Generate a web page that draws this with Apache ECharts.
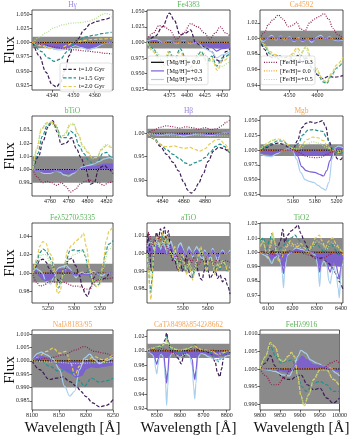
<!DOCTYPE html>
<html><head><meta charset="utf-8">
<script src="https://cdn.jsdelivr.net/npm/echarts@6/dist/echarts.min.js"></script>
<style>html,body{margin:0;padding:0;background:#fff}#c{width:350px;height:437px}</style>
</head><body><div id="c"></div>
<script>
// ---------------- DATA ----------------
// Panel 1: Hgamma
const hg_xt=[4340,4350,4360], hg_yt=[0.925,0.95,0.975,1.0,1.025,1.05];
const hg_t1=[[4331,1.0],[4334,0.976],[4337,0.948],[4340,0.926],[4342,0.922],[4344,0.93],[4346,0.952],[4348,0.977],[4350,0.995],[4352,1.006],[4355,1.022],[4358,1.033],[4361,1.037],[4364,1.04],[4368,1.045]];
const hg_t15=[[4331,1.0],[4335,0.984],[4338,0.973],[4341,0.967],[4344,0.971],[4347,0.984],[4350,0.997],[4353,1.005],[4356,1.01],[4360,1.013],[4364,1.016],[4368,1.018]];
const hg_t2=[[4331,1.0],[4335,0.994],[4338,0.99],[4341,0.988],[4344,0.99],[4347,0.995],[4350,1.0],[4354,1.003],[4358,1.005],[4363,1.006],[4368,1.007]];
const hg_mg3=[[4331,1.0],[4335,0.998],[4339,0.993],[4343,0.99],[4347,0.991],[4351,0.996],[4354,0.993],[4357,0.99],[4360,0.993],[4364,0.999],[4368,1.0]];
const hg_mg5=[[4331,1.0],[4335,0.997],[4339,0.991],[4343,0.987],[4347,0.988],[4351,0.995],[4354,0.991],[4357,0.987],[4360,0.99],[4364,0.998],[4368,1.0]];
const hg_fem3=[[4331,1.0],[4336,0.996],[4341,0.992],[4346,0.989],[4351,0.987],[4356,0.985],[4361,0.983],[4365,0.981],[4368,0.98]];
const hg_fep5=[[4331,1.0],[4334,1.009],[4337,1.017],[4341,1.026],[4345,1.031],[4349,1.034],[4353,1.035],[4357,1.037],[4360,1.041],[4363,1.048],[4365,1.051],[4368,1.048]];
// Panel 2: Fe4383
const fe43_xt=[4375,4400,4425,4450], fe43_yt=[0.925,0.95,0.975,1.0,1.025,1.05];
const fe43_t1=[[4343,1.0],[4355,1.01],[4365,1.025],[4375,1.047],[4382,1.035],[4390,1.012],[4398,1.015],[4405,1.02],[4412,1.0],[4420,0.995],[4428,0.99],[4435,0.985],[4442,0.972],[4448,0.968],[4455,0.985],[4461,0.99]];
const fe43_t15=[[4343,1.0],[4352,0.99],[4360,0.975],[4368,0.963],[4375,0.985],[4382,0.97],[4390,0.99],[4398,0.975],[4405,0.96],[4412,0.975],[4420,0.985],[4428,0.97],[4435,0.978],[4442,0.962],[4450,0.975],[4461,0.982]];
const fe43_t2=[[4343,1.0],[4352,0.985],[4360,0.97],[4366,0.958],[4373,0.985],[4382,0.965],[4390,0.985],[4398,0.97],[4405,0.955],[4412,0.97],[4420,0.98],[4428,0.965],[4435,0.975],[4443,0.955],[4450,0.97],[4461,0.978]];
const fe43_mg3=[[4343,1.001],[4355,1.003],[4365,1.0],[4375,1.002],[4385,0.999],[4395,1.002],[4405,0.999],[4415,1.0],[4425,0.995],[4435,0.992],[4442,0.986],[4450,0.99],[4461,0.992]];
const fe43_mg5=[[4343,1.002],[4355,1.005],[4365,1.0],[4375,1.003],[4385,0.998],[4395,1.003],[4405,0.998],[4415,1.0],[4425,0.99],[4435,0.985],[4442,0.975],[4450,0.98],[4461,0.985]];
const fe43_fem3=[[4343,1.005],[4352,1.015],[4360,1.027],[4368,1.025],[4375,1.02],[4385,1.005],[4395,1.015],[4405,1.03],[4415,1.025],[4425,1.015],[4432,1.005],[4440,1.015],[4447,1.025],[4455,1.015],[4461,1.01]];
const fe43_fep5=[[4343,1.0],[4355,0.985],[4365,0.975],[4375,0.98],[4390,0.975],[4405,0.97],[4420,0.985],[4435,0.97],[4445,0.96],[4461,0.97]];
// Panel 3: Ca4592
const ca_xt=[4550,4600], ca_yt=[0.94,0.96,0.98,1.0,1.02];
const ca_t1=[[4497,1.0],[4505,0.986],[4512,0.977],[4520,0.975],[4530,0.978],[4540,0.975],[4550,0.977],[4558,0.972],[4565,0.978],[4572,0.968],[4580,0.975],[4590,0.962],[4600,0.953],[4610,0.948],[4620,0.951],[4632,0.95],[4646,0.952]];
const ca_t15=[[4497,1.0],[4505,0.99],[4515,0.98],[4525,0.976],[4535,0.972],[4545,0.968],[4555,0.975],[4563,0.965],[4572,0.978],[4582,0.968],[4592,0.962],[4602,0.952],[4610,0.944],[4617,0.942],[4625,0.952],[4635,0.962],[4646,0.97]];
const ca_t2=[[4497,1.0],[4505,0.992],[4515,0.983],[4525,0.979],[4535,0.976],[4545,0.972],[4555,0.98],[4563,0.988],[4572,0.982],[4580,0.99],[4590,0.972],[4600,0.958],[4610,0.946],[4617,0.944],[4625,0.955],[4635,0.966],[4646,0.976]];
const ca_mg3=[[4497,1.001],[4503,0.998],[4510,1.0],[4518,1.002],[4526,0.999],[4534,1.002],[4542,0.999],[4550,1.001],[4558,0.997],[4566,1.0],[4574,0.997],[4582,1.0],[4590,0.997],[4598,1.0],[4606,1.002],[4614,0.999],[4622,1.001],[4630,0.999],[4638,0.998],[4646,0.999]];
const ca_mg5=[[4497,1.002],[4503,0.996],[4510,1.0],[4518,1.004],[4526,0.998],[4534,1.003],[4542,0.998],[4550,1.002],[4558,0.996],[4566,1.001],[4574,0.996],[4582,1.0],[4590,0.995],[4598,1.001],[4606,1.004],[4614,0.999],[4622,1.002],[4630,0.998],[4638,0.997],[4646,0.998]];
const ca_fem3=[[4497,1.0],[4505,1.008],[4512,1.018],[4520,1.024],[4530,1.03],[4538,1.025],[4548,1.015],[4556,1.017],[4563,1.021],[4570,1.012],[4578,1.01],[4586,1.02],[4595,1.025],[4603,1.028],[4612,1.032],[4620,1.025],[4628,1.013],[4636,1.005],[4646,1.0]];
const ca_fep5=[[4497,1.0],[4506,0.99],[4516,0.98],[4526,0.978],[4536,0.975],[4546,0.97],[4556,0.978],[4563,0.985],[4570,0.978],[4578,0.988],[4588,0.975],[4598,0.962],[4608,0.95],[4616,0.943],[4625,0.953],[4636,0.963],[4646,0.972]];
// Panel 4: bTiO
const bt_xt=[4760,4780,4800,4820], bt_yt=[0.99,1.0,1.01,1.02,1.03];
const bt_t1=[[4742,1.0],[4748,1.01],[4753,1.022],[4758,1.032],[4763,1.037],[4768,1.028],[4772,1.019],[4777,1.02],[4783,1.024],[4788,1.016],[4793,1.009],[4798,1.0],[4803,0.989],[4807,0.99],[4812,1.001],[4818,1.003],[4823,1.0],[4827,0.997]];
const bt_t15=[[4742,1.0],[4747,1.012],[4752,1.025],[4757,1.033],[4762,1.036],[4767,1.032],[4772,1.024],[4777,1.024],[4782,1.029],[4786,1.027],[4791,1.018],[4796,1.012],[4801,1.007],[4806,1.004],[4811,1.006],[4816,1.012],[4820,1.013],[4824,1.01],[4827,1.008]];
const bt_t2=[[4742,1.0],[4746,1.015],[4751,1.03],[4756,1.035],[4761,1.036],[4766,1.034],[4771,1.025],[4776,1.026],[4781,1.033],[4785,1.034],[4790,1.027],[4795,1.018],[4800,1.013],[4805,1.009],[4810,1.009],[4815,1.015],[4820,1.018],[4824,1.017],[4827,1.015]];
const bt_mg3=[[4742,1.0],[4748,0.999],[4754,0.998],[4760,0.998],[4766,0.999],[4771,0.999],[4775,0.997],[4780,0.997],[4785,0.998],[4790,1.0],[4795,1.001],[4800,1.002],[4806,1.002],[4812,1.003],[4818,1.004],[4823,1.004],[4827,1.004]];
const bt_mg5=[[4742,1.0],[4748,0.999],[4754,0.997],[4760,0.997],[4766,0.999],[4771,0.998],[4775,0.996],[4780,0.995],[4785,0.997],[4790,1.0],[4795,1.002],[4800,1.003],[4806,1.004],[4812,1.006],[4818,1.008],[4823,1.009],[4827,1.008]];
const bt_fem3=[[4742,1.0],[4747,0.994],[4752,0.99],[4757,0.991],[4762,0.99],[4767,0.988],[4772,0.99],[4777,0.987],[4782,0.983],[4787,0.985],[4792,0.989],[4797,0.991],[4802,0.992],[4807,0.991],[4812,0.99],[4817,0.988],[4822,0.99],[4827,0.991]];
const bt_fep5=[[4742,1.0],[4746,1.016],[4751,1.031],[4756,1.034],[4761,1.035],[4766,1.032],[4771,1.024],[4776,1.027],[4781,1.034],[4785,1.035],[4790,1.026],[4795,1.017],[4800,1.014],[4805,1.008],[4810,1.01],[4815,1.016],[4820,1.019],[4827,1.016]];
// Panel 5: Hbeta
const hb_xt=[4840,4860,4880], hb_yt=[0.90,0.95,1.0];
const hb_t1=[[4826,1.0],[4832,0.988],[4838,0.972],[4844,0.955],[4850,0.938],[4855,0.92],[4860,0.896],[4864,0.878],[4867,0.872],[4870,0.878],[4874,0.893],[4878,0.912],[4883,0.94],[4888,0.962],[4893,0.97],[4897,0.968],[4903,0.958]];
const hb_t15=[[4826,1.0],[4832,0.99],[4838,0.976],[4844,0.965],[4850,0.955],[4856,0.946],[4861,0.937],[4866,0.932],[4870,0.937],[4875,0.941],[4880,0.948],[4885,0.96],[4890,0.972],[4894,0.977],[4898,0.972],[4903,0.958]];
const hb_t2=[[4826,1.0],[4831,0.99],[4836,0.98],[4841,0.972],[4846,0.971],[4851,0.973],[4856,0.97],[4861,0.968],[4866,0.97],[4870,0.966],[4875,0.962],[4880,0.967],[4885,0.978],[4890,0.986],[4894,0.987],[4898,0.978],[4903,0.962]];
const hb_mg3=[[4826,1.0],[4833,0.998],[4840,0.998],[4847,1.0],[4854,0.998],[4860,0.997],[4866,0.998],[4872,1.0],[4878,0.999],[4885,0.997],[4892,0.999],[4898,1.0],[4903,1.001]];
const hb_mg5=[[4826,1.0],[4833,0.997],[4840,0.996],[4847,0.999],[4854,0.997],[4860,0.994],[4866,0.996],[4872,0.999],[4878,0.998],[4885,0.995],[4892,0.998],[4898,1.001],[4903,1.002]];
const hb_fem3=[[4826,1.0],[4832,1.007],[4838,1.013],[4844,1.016],[4850,1.014],[4856,1.011],[4862,1.014],[4868,1.012],[4874,1.009],[4880,1.012],[4886,1.008],[4891,1.01],[4896,1.016],[4900,1.024],[4903,1.028]];
const hb_fep5=[[4826,1.0],[4840,0.996],[4855,0.994],[4870,0.996],[4885,0.995],[4903,0.994]];
// Panel 6: Mgb
const mgb_xt=[5160,5180,5200], mgb_yt=[0.925,0.95,0.975,1.0,1.025,1.05];
const mgb_t1=[[5130,1.0],[5135,1.004],[5140,1.009],[5146,1.012],[5151,1.01],[5156,1.005],[5160,1.001],[5164,1.016],[5168,1.038],[5172,1.046],[5176,1.048],[5180,1.046],[5184,1.048],[5187,1.05],[5190,1.04],[5193,1.015],[5197,0.997],[5201,0.985],[5204,0.984],[5206,0.99]];
const mgb_t15=[[5130,1.0],[5135,1.006],[5140,1.011],[5146,1.016],[5151,1.015],[5156,1.008],[5161,1.003],[5165,1.012],[5169,1.026],[5174,1.034],[5179,1.035],[5183,1.033],[5187,1.032],[5191,1.022],[5195,1.005],[5199,0.996],[5203,0.994],[5206,0.997]];
const mgb_t2=[[5130,1.0],[5135,1.009],[5140,1.016],[5145,1.019],[5150,1.018],[5155,1.01],[5160,1.002],[5164,1.001],[5168,1.01],[5173,1.018],[5178,1.022],[5183,1.021],[5188,1.016],[5192,1.006],[5196,0.999],[5200,0.996],[5206,0.998]];
const mgb_mg3=[[5130,0.996],[5135,0.994],[5140,0.993],[5145,0.996],[5150,0.999],[5155,1.0],[5160,1.0],[5164,0.99],[5168,0.972],[5172,0.965],[5176,0.963],[5180,0.962],[5184,0.959],[5188,0.956],[5191,0.965],[5194,0.982],[5197,0.998],[5201,1.004],[5206,1.002]];
const mgb_mg5=[[5130,0.993],[5135,0.99],[5140,0.989],[5145,0.994],[5150,0.999],[5155,1.002],[5160,0.999],[5163,0.985],[5167,0.962],[5171,0.95],[5175,0.947],[5179,0.945],[5183,0.94],[5187,0.935],[5190,0.932],[5193,0.945],[5196,0.985],[5199,1.004],[5202,1.007],[5206,1.004]];
const mgb_fem3=[[5130,1.0],[5140,0.999],[5150,1.0],[5160,1.0],[5166,0.996],[5171,0.99],[5176,0.988],[5181,0.987],[5186,0.988],[5191,0.993],[5196,0.997],[5201,0.997],[5206,0.999]];
const mgb_fep5=[[5130,1.002],[5136,1.012],[5142,1.017],[5148,1.015],[5154,1.008],[5160,1.003],[5166,1.002],[5172,1.01],[5178,1.014],[5184,1.012],[5190,1.005],[5196,1.0],[5206,0.999]];
// Panel 7: Fe5270/5335
const fe52_xt=[5250,5300,5350], fe52_yt=[0.98,1.0,1.02,1.04];
const fe52_t1=[[5221,1.0],[5228,1.008],[5234,1.014],[5240,1.015],[5246,1.012],[5252,1.005],[5258,1.0],[5264,0.995],[5270,0.992],[5276,0.995],[5283,1.005],[5290,1.015],[5296,1.016],[5303,1.008],[5310,0.998],[5316,0.985],[5322,0.977],[5326,0.975],[5332,0.985],[5338,0.995],[5344,1.0],[5350,0.998],[5356,0.994],[5362,0.995],[5368,1.0],[5375,1.0]];
const fe52_t15=[[5221,1.0],[5228,1.012],[5234,1.022],[5240,1.026],[5246,1.024],[5252,1.018],[5258,1.012],[5264,0.995],[5270,0.984],[5276,0.993],[5284,1.012],[5292,1.024],[5300,1.025],[5308,1.024],[5316,1.025],[5322,1.018],[5328,1.0],[5335,0.99],[5342,0.986],[5348,0.988],[5354,1.0],[5360,1.02],[5366,1.031],[5375,1.035]];
const fe52_t2=[[5221,1.0],[5228,1.015],[5234,1.029],[5240,1.034],[5246,1.032],[5252,1.022],[5258,1.018],[5263,1.0],[5268,0.978],[5273,0.98],[5280,1.005],[5288,1.025],[5296,1.03],[5304,1.035],[5312,1.038],[5318,1.043],[5324,1.028],[5330,1.005],[5337,0.99],[5344,0.985],[5350,0.988],[5356,1.01],[5362,1.035],[5368,1.046],[5375,1.05]];
const fe52_mg3=[[5221,1.0],[5227,1.003],[5233,0.997],[5240,0.993],[5246,0.992],[5252,0.993],[5258,0.995],[5264,1.0],[5271,1.004],[5278,1.004],[5286,1.004],[5294,1.002],[5300,0.998],[5308,0.998],[5316,0.999],[5324,0.998],[5332,0.999],[5340,1.0],[5350,0.999],[5360,1.0],[5375,1.0]];
const fe52_mg5=[[5221,1.0],[5227,1.005],[5233,1.003],[5239,1.0],[5245,0.992],[5250,0.99],[5255,0.988],[5260,0.995],[5265,1.002],[5271,1.006],[5278,1.007],[5285,1.008],[5292,1.005],[5298,0.999],[5304,0.995],[5310,1.0],[5316,1.001],[5322,0.999],[5330,1.0],[5338,1.002],[5346,0.999],[5354,0.997],[5362,1.0],[5375,1.0]];
const fe52_fem3=[[5221,0.998],[5228,0.99],[5234,0.986],[5242,0.987],[5250,0.99],[5258,0.991],[5266,0.99],[5274,0.99],[5282,0.99],[5290,0.988],[5298,0.986],[5306,0.986],[5314,0.985],[5322,0.983],[5330,0.982],[5338,0.99],[5346,0.993],[5354,0.993],[5362,0.994],[5375,0.995]];
const fe52_fep5=[[5221,1.0],[5230,1.012],[5238,1.02],[5246,1.02],[5254,1.012],[5262,1.0],[5270,0.985],[5280,0.998],[5290,1.015],[5300,1.02],[5310,1.022],[5318,1.025],[5326,1.01],[5336,0.993],[5346,0.99],[5356,1.005],[5366,1.025],[5375,1.03]];
// Panel 8: aTiO
const at_xt=[5500,5600], at_yt=[0.98,0.99,1.0,1.01];
const at_t1=[[5356,1.0],[5360,1.012],[5366,1.004],[5372,0.992],[5378,0.99],[5386,1.004],[5394,1.012],[5402,1.008],[5410,1.014],[5418,1.01],[5426,1.015],[5434,1.008],[5442,1.013],[5450,1.004],[5458,0.996],[5466,1.0],[5474,0.993],[5482,0.99],[5490,0.996],[5498,0.99],[5506,0.993],[5514,0.999],[5522,0.991],[5530,0.987],[5538,0.986],[5546,0.99],[5554,0.995],[5562,0.99],[5570,0.986],[5578,0.985],[5586,0.99],[5594,0.996],[5602,0.99],[5610,0.986],[5620,0.988],[5630,0.992],[5640,0.986],[5650,0.988],[5660,0.984],[5670,0.986],[5680,0.982],[5690,0.977]];
const at_t15=[[5356,1.0],[5362,0.992],[5367,0.982],[5371,0.978],[5376,0.985],[5382,0.999],[5390,1.006],[5398,1.008],[5405,1.003],[5412,1.008],[5420,1.01],[5428,1.005],[5436,1.008],[5444,1.003],[5452,0.999],[5460,0.997],[5468,1.002],[5476,0.995],[5484,0.991],[5492,0.996],[5500,0.998],[5508,0.992],[5516,0.989],[5524,0.994],[5532,0.99],[5540,0.987],[5548,0.99],[5556,0.994],[5564,0.998],[5572,1.002],[5580,0.998],[5588,0.993],[5596,0.99],[5604,0.995],[5612,0.998],[5620,0.993],[5630,0.989],[5640,0.993],[5650,0.991],[5660,0.995],[5670,0.993],[5680,0.99],[5690,0.991]];
const at_t2=[[5356,1.0],[5362,0.99],[5368,0.978],[5372,0.974],[5376,0.982],[5382,0.998],[5390,1.008],[5398,1.01],[5405,1.004],[5412,1.009],[5420,1.012],[5428,1.006],[5436,1.01],[5444,1.004],[5452,1.0],[5460,0.998],[5468,1.004],[5476,0.996],[5484,0.99],[5492,0.997],[5500,1.0],[5508,0.993],[5516,0.988],[5524,0.995],[5532,0.99],[5540,0.985],[5548,0.99],[5556,0.995],[5564,1.0],[5572,1.004],[5580,1.0],[5588,0.994],[5596,0.99],[5604,0.996],[5612,1.0],[5620,0.994],[5630,0.988],[5640,0.994],[5650,0.992],[5660,0.996],[5670,0.994],[5680,0.99],[5690,0.99]];
const at_mg3=[[5356,1.002],[5364,1.004],[5372,1.004],[5380,1.002],[5388,1.0],[5396,1.005],[5404,1.003],[5412,1.001],[5420,1.004],[5428,1.002],[5436,0.999],[5444,1.003],[5452,1.004],[5460,1.002],[5468,0.998],[5476,0.999],[5484,1.003],[5492,1.004],[5500,1.002],[5508,0.999],[5516,1.0],[5524,1.002],[5532,1.001],[5540,0.999],[5548,1.001],[5556,1.002],[5564,1.001],[5572,0.999],[5580,0.998],[5588,1.001],[5596,1.0],[5604,0.998],[5612,0.999],[5620,1.002],[5630,1.0],[5640,0.998],[5650,1.0],[5660,1.001],[5670,1.0],[5680,1.0],[5690,1.001]];
const at_mg5=[[5356,1.004],[5364,1.006],[5372,1.007],[5380,1.004],[5388,1.0],[5396,1.008],[5404,1.005],[5412,1.002],[5420,1.007],[5428,1.004],[5436,0.999],[5444,1.005],[5452,1.007],[5460,1.004],[5468,0.996],[5476,0.999],[5484,1.005],[5492,1.006],[5500,1.003],[5508,0.999],[5516,1.0],[5524,1.004],[5532,1.002],[5540,0.998],[5548,1.002],[5556,1.004],[5564,1.002],[5572,0.998],[5580,0.997],[5588,1.002],[5596,1.0],[5604,0.997],[5612,0.999],[5620,1.003],[5630,1.0],[5640,0.996],[5650,1.0],[5660,1.002],[5670,1.0],[5680,1.0],[5690,1.002]];
const at_fem3=[[5356,1.005],[5362,1.012],[5368,1.01],[5376,1.004],[5386,1.008],[5396,1.006],[5406,1.01],[5416,1.004],[5426,1.008],[5436,1.004],[5446,1.0],[5456,0.998],[5466,0.996],[5476,0.999],[5486,0.995],[5496,0.998],[5506,0.996],[5516,0.994],[5526,0.997],[5536,0.995],[5546,0.998],[5556,0.996],[5566,0.994],[5576,0.997],[5586,0.995],[5596,0.998],[5610,0.996],[5625,0.994],[5640,0.997],[5655,0.995],[5670,0.996],[5690,0.995]];
const at_fep5=[[5356,1.0],[5364,0.994],[5370,0.986],[5376,0.99],[5384,1.0],[5394,1.006],[5404,1.004],[5414,1.007],[5424,1.005],[5434,1.007],[5444,1.002],[5454,0.999],[5464,1.001],[5474,0.996],[5484,0.993],[5494,0.997],[5504,0.995],[5514,0.991],[5524,0.996],[5534,0.992],[5544,0.99],[5554,0.995],[5564,0.998],[5574,1.002],[5584,0.997],[5594,0.993],[5604,0.997],[5614,0.998],[5624,0.993],[5636,0.991],[5648,0.994],[5660,0.996],[5675,0.993],[5690,0.992]];
// Panel 9: TiO2
const ti_xt=[6100,6200,6300,6400], ti_yt=[0.97,0.98,0.99,1.0,1.01,1.02];
const ti_t1=[[6068,1.0],[6085,1.0],[6100,0.999],[6120,1.001],[6140,1.004],[6150,1.008],[6160,1.016],[6168,1.007],[6180,1.012],[6195,1.015],[6210,1.017],[6222,1.019],[6235,1.013],[6248,1.008],[6260,1.004],[6275,0.998],[6290,0.996],[6305,0.995],[6320,0.996],[6335,0.994],[6350,0.992],[6365,0.989],[6375,0.986],[6385,0.982],[6395,0.979],[6408,0.974]];
const ti_t15=[[6068,1.008],[6080,1.01],[6092,1.002],[6105,1.008],[6115,1.013],[6125,1.006],[6138,0.999],[6150,1.003],[6165,1.005],[6180,1.008],[6195,1.01],[6210,1.012],[6225,1.009],[6240,1.005],[6255,1.003],[6270,1.0],[6285,1.004],[6300,1.006],[6315,1.003],[6330,1.0],[6345,1.004],[6360,1.006],[6375,1.002],[6390,0.998],[6408,1.0]];
const ti_t2=[[6068,1.004],[6080,1.008],[6092,1.0],[6100,0.995],[6110,1.006],[6118,1.014],[6125,1.008],[6135,0.998],[6145,0.993],[6155,0.996],[6165,1.0],[6178,1.004],[6190,1.008],[6205,1.005],[6220,1.004],[6235,1.006],[6250,1.003],[6265,1.0],[6280,1.005],[6295,1.01],[6310,1.012],[6322,1.008],[6335,1.003],[6350,1.008],[6365,1.01],[6380,1.006],[6395,1.002],[6408,0.998]];
const ti_mg3=[[6068,1.0],[6085,0.999],[6100,0.998],[6115,0.995],[6125,0.997],[6140,0.999],[6152,0.995],[6158,0.99],[6163,0.985],[6168,0.993],[6178,0.999],[6195,1.0],[6215,1.002],[6235,1.001],[6255,1.001],[6275,1.0],[6295,0.999],[6305,0.994],[6312,0.986],[6318,0.994],[6330,0.997],[6342,0.994],[6350,0.988],[6356,0.986],[6362,0.99],[6370,0.994],[6380,0.991],[6388,0.985],[6393,0.981],[6398,0.988],[6403,0.994],[6408,0.996]];
const ti_mg5=[[6068,1.0],[6085,0.998],[6100,0.996],[6115,0.992],[6125,0.996],[6140,0.998],[6152,0.992],[6158,0.985],[6163,0.975],[6168,0.988],[6178,0.998],[6195,1.0],[6215,1.003],[6235,1.002],[6255,1.001],[6275,1.0],[6295,0.998],[6305,0.99],[6312,0.976],[6318,0.99],[6330,0.994],[6342,0.99],[6350,0.98],[6356,0.978],[6362,0.984],[6370,0.99],[6380,0.985],[6388,0.975],[6393,0.968],[6398,0.98],[6403,0.99],[6408,0.992]];
const ti_fem3=[[6068,1.0],[6090,1.0],[6110,0.999],[6130,0.998],[6150,0.997],[6170,1.0],[6190,1.001],[6210,1.0],[6230,1.0],[6250,0.999],[6270,0.998],[6290,0.997],[6310,0.996],[6330,0.996],[6350,0.998],[6370,1.0],[6390,0.999],[6408,1.0]];
const ti_fep5=[[6068,1.01],[6080,1.006],[6095,0.998],[6110,1.004],[6120,1.012],[6130,1.005],[6142,0.997],[6155,1.0],[6170,1.004],[6185,1.006],[6200,1.004],[6220,1.006],[6240,1.002],[6260,1.0],[6280,1.003],[6300,1.008],[6320,1.006],[6340,1.002],[6360,1.007],[6380,1.004],[6408,1.0]];
// Panel 10: NaI8183/95
const na_xt=[8100,8150,8200,8250], na_yt=[0.985,0.99,0.995,1.0,1.005,1.01];
const na_t1=[[8100,1.0],[8114,0.9967],[8132,0.993],[8145,0.9935],[8157,0.994],[8170,0.9922],[8182,0.9905],[8191,0.9885],[8200,0.9866],[8212,0.9843],[8225,0.9828],[8238,0.9833],[8250,0.9855]];
const na_t15=[[8100,1.0],[8114,1.0005],[8132,0.998],[8151,0.996],[8163,0.9965],[8175,0.9955],[8188,0.9925],[8197,0.9905],[8210,0.9935],[8225,0.992],[8238,0.9925],[8250,0.9935]];
const na_t2=[[8100,1.0],[8111,1.0015],[8127,1.0035],[8139,1.0047],[8151,1.0028],[8163,1.0035],[8172,0.999],[8179,0.9945],[8188,0.998],[8200,1.0004],[8216,1.0015],[8232,1.0003],[8250,1.0022]];
const na_mg3=[[8100,1.0],[8111,1.0018],[8120,1.0015],[8132,1.0005],[8145,0.999],[8158,0.9968],[8170,0.9955],[8182,0.994],[8192,0.9945],[8200,0.997],[8210,0.9978],[8222,0.9975],[8235,0.998],[8250,0.9985]];
const na_mg5=[[8100,1.0],[8111,1.0028],[8117,1.0032],[8127,1.0022],[8139,1.0006],[8151,0.9967],[8160,0.9905],[8170,0.9868],[8179,0.9886],[8188,0.9967],[8197,1.001],[8207,1.0025],[8216,1.0004],[8225,0.9989],[8238,1.0001],[8250,1.0014]];
const na_fem3=[[8100,1.0],[8130,1.001],[8160,1.0022],[8180,1.004],[8197,1.0053],[8216,1.0035],[8235,1.0028],[8250,1.0015]];
const na_fep5=[[8100,1.0],[8140,0.9995],[8180,0.999],[8220,0.9993],[8250,0.9995]];
// Panel 11: CaT
const cat_xt=[8500,8600,8700,8800], cat_yt=[0.92,0.94,0.96,0.98,1.0,1.02];
const cat_t1=[[8458,1.0],[8475,1.002],[8490,1.004],[8500,1.006],[8512,1.005],[8525,1.008],[8535,1.015],[8542,1.025],[8550,1.012],[8560,1.0],[8575,0.998],[8590,0.99],[8605,0.982],[8615,0.992],[8625,1.0],[8640,1.003],[8655,1.005],[8665,1.008],[8675,1.002],[8690,0.998],[8705,1.0],[8720,0.998],[8735,0.995],[8750,0.985],[8760,0.97],[8770,0.964],[8778,0.975],[8786,0.99],[8795,0.995],[8805,0.993],[8814,0.998]];
const cat_t15=[[8458,1.0],[8475,1.002],[8490,1.003],[8505,1.004],[8520,1.006],[8533,1.01],[8542,1.02],[8550,1.012],[8562,1.003],[8580,1.0],[8600,0.996],[8620,1.0],[8640,1.003],[8655,1.006],[8665,1.008],[8675,1.003],[8690,1.0],[8710,1.0],[8730,0.998],[8750,0.993],[8765,0.985],[8775,0.99],[8790,0.996],[8800,0.998],[8814,1.0]];
const cat_t2=[[8458,1.0],[8475,1.003],[8490,1.004],[8505,1.006],[8520,1.007],[8533,1.01],[8542,1.016],[8550,1.01],[8562,1.004],[8580,1.002],[8600,1.0],[8620,1.002],[8640,1.004],[8655,1.006],[8665,1.007],[8675,1.004],[8690,1.002],[8710,1.001],[8730,1.0],[8750,0.997],[8765,0.993],[8775,0.995],[8790,0.998],[8800,1.0],[8814,1.001]];
const cat_mg3=[[8458,1.0],[8470,0.999],[8480,0.997],[8490,0.994],[8495,0.986],[8500,0.981],[8505,0.988],[8512,0.996],[8520,0.997],[8530,0.994],[8537,0.975],[8542,0.955],[8547,0.97],[8553,0.994],[8565,0.998],[8580,0.997],[8592,0.996],[8600,0.994],[8610,0.996],[8625,0.998],[8640,0.996],[8652,0.988],[8658,0.97],[8663,0.96],[8668,0.973],[8675,0.994],[8690,0.998],[8705,0.997],[8720,0.995],[8735,0.994],[8748,0.993],[8760,0.992],[8772,0.994],[8785,0.994],[8800,0.996],[8814,0.996]];
const cat_mg5=[[8458,1.0],[8470,0.998],[8480,0.995],[8490,0.99],[8495,0.975],[8500,0.968],[8505,0.98],[8512,0.994],[8520,0.996],[8530,0.99],[8537,0.96],[8542,0.924],[8547,0.95],[8553,0.99],[8565,0.997],[8580,0.996],[8592,0.993],[8600,0.99],[8610,0.994],[8625,0.996],[8640,0.993],[8652,0.98],[8658,0.95],[8663,0.933],[8668,0.955],[8675,0.99],[8690,0.997],[8705,0.995],[8720,0.992],[8735,0.99],[8748,0.988],[8760,0.986],[8772,0.99],[8785,0.99],[8800,0.993],[8814,0.994]];
const cat_fem3=[[8458,1.0],[8480,1.002],[8500,1.001],[8520,1.003],[8540,1.002],[8560,0.998],[8580,0.996],[8600,0.993],[8620,0.996],[8640,0.999],[8660,1.002],[8680,1.003],[8700,1.002],[8720,1.0],[8740,1.001],[8760,0.999],[8780,1.0],[8814,1.001]];
const cat_fep5=[[8458,1.0],[8480,1.004],[8500,1.006],[8520,1.006],[8535,1.01],[8545,1.013],[8555,1.006],[8575,1.003],[8600,1.001],[8630,1.003],[8650,1.005],[8665,1.006],[8680,1.003],[8710,1.001],[8740,0.999],[8760,0.995],[8780,0.998],[8814,1.0]];
// Panel 12: FeH
const feh_xt=[9800,9850,9900,9950,10000], feh_yt=[0.99,0.995,1.0,1.005,1.01];
const feh_t1=[[9800,1.0],[9814,1.0017],[9826,1.0038],[9838,1.0008],[9854,0.9979],[9866,0.997],[9879,0.997],[9891,0.9979],[9903,0.9983],[9919,0.9955],[9935,0.9941],[9951,0.9945],[9968,0.9917],[9984,0.9903],[10000,0.9917]];
const feh_t15=[[9800,1.0],[9814,1.0036],[9826,1.0064],[9840,1.0036],[9852,1.0017],[9868,1.0022],[9881,1.0026],[9893,0.9993],[9905,0.995],[9917,0.9936],[9935,0.996],[9951,0.9964],[9968,0.9955],[9984,0.9936],[10000,0.9936]];
const feh_t2=[[9800,1.0],[9814,1.0036],[9826,1.0075],[9838,1.0064],[9850,1.0026],[9860,1.0022],[9870,1.0036],[9879,1.0047],[9887,1.0036],[9895,0.9979],[9903,0.9923],[9911,0.9894],[9923,0.9927],[9935,0.997],[9951,0.9998],[9968,0.9998],[9984,0.997],[10000,0.9951]];
const feh_mg3=[[9800,1.0],[9838,0.9998],[9874,0.9991],[9895,1.0021],[9906,1.0036],[9918,1.0026],[9935,1.0012],[9960,1.0008],[9984,0.9998],[10000,0.9993]];
const feh_mg5=[[9800,1.0],[9814,0.9998],[9838,0.9993],[9858,0.9983],[9874,0.998],[9887,1.0008],[9895,1.0036],[9903,1.0053],[9915,1.0045],[9927,1.0026],[9943,1.0017],[9960,1.0008],[9976,1.0003],[9992,0.9988],[10000,0.998]];
const feh_fem3=[[9800,1.0],[9815,0.998],[9830,0.9955],[9845,0.9955],[9860,0.9975],[9875,0.9995],[9895,1.0],[9930,1.0],[9960,1.0003],[9980,1.0018],[9992,1.0024],[10000,1.0015]];
const feh_fep5=[[9800,1.0],[9814,1.0034],[9826,1.0072],[9838,1.0062],[9850,1.0025],[9860,1.0021],[9870,1.0034],[9879,1.0045],[9887,1.0034],[9895,0.998],[9903,0.9925],[9911,0.9897],[9923,0.9929],[9935,0.997],[9951,0.9997],[9968,0.9997],[9984,0.9971],[10000,0.9953]];

// Titles and legend texts
const TITLES=['Hγ','Fe4383','Ca4592','bTiO','Hβ','Mgb','Feλ5270λ5335','aTiO','TiO2','NaIλ8183/95','CaTλ8498λ8542λ8662','FeHλ9916'];
const LEGEND_T=['t=1.0 Gyr','t=1.5 Gyr','t=2.0 Gyr'];
const LEGEND_MG=['[Mg/H]= 0.0','[Mg/H]=+0.3','[Mg/H]=+0.5'];
const LEGEND_FE=['[Fe/H]=−0.3','[Fe/H]= 0.0','[Fe/H]=+0.5'];

// ---------------- LAYOUT / STYLE ----------------
const FONT='Liberation Serif, DejaVu Serif, serif';
const COL_L=[32,147,260], COL_W=[81,83,83], ROW_T=[10,116,223,330], ROW_H=80;
const COL={t1:'#3b1c57',t15:'#23918b',t2:'#e6cd55',mg0:'#000000',mg3:'#7b5fd9',mg5:'#a9d0ee',fem3:'#8c2050',fe0:'#f0a23a',fep5:'#b3dc8e',band:'#8a8a8a',fill:'#7a5cd3'};
const TCOL={bal:'#9d86e0',fe:'#5bb55b',al:'#f4a55a'};
const DASH=[3.5,1.8], DOT=[1,1.4], LW=1.2;

const panels=[
 {d:[hg_t1,hg_t15,hg_t2,hg_mg3,hg_mg5,hg_fem3,hg_fep5],x:[4330.5,4368.6],y:[0.9166,1.057],xt:hg_xt,yt:hg_yt,dec:3,tc:TCOL.bal},
 {d:[fe43_t1,fe43_t15,fe43_t2,fe43_mg3,fe43_mg5,fe43_fem3,fe43_fep5],x:[4343,4461],y:[0.9235,1.052],xt:fe43_xt,yt:fe43_yt,dec:3,tc:TCOL.fe},
 {d:[ca_t1,ca_t15,ca_t2,ca_mg3,ca_mg5,ca_fem3,ca_fep5],x:[4497,4646],y:[0.9335,1.0366],xt:ca_xt,yt:ca_yt,dec:2,tc:TCOL.al},
 {d:[bt_t1,bt_t15,bt_t2,bt_mg3,bt_mg5,bt_fem3,bt_fep5],x:[4741,4827],y:[0.980,1.0404],xt:bt_xt,yt:bt_yt,dec:2,tc:TCOL.fe},
 {d:[hb_t1,hb_t15,hb_t2,hb_mg3,hb_mg5,hb_fem3,hb_fep5],x:[4825.5,4903.5],y:[0.866,1.037],xt:hb_xt,yt:hb_yt,dec:2,tc:TCOL.bal},
 {d:[mgb_t1,mgb_t15,mgb_t2,mgb_mg3,mgb_mg5,mgb_fem3,mgb_fep5],x:[5129.5,5206],y:[0.922,1.058],xt:mgb_xt,yt:mgb_yt,dec:3,tc:TCOL.al},
 {d:[fe52_t1,fe52_t15,fe52_t2,fe52_mg3,fe52_mg5,fe52_fem3,fe52_fep5],x:[5219,5375],y:[0.9678,1.054],xt:fe52_xt,yt:fe52_yt,dec:2,tc:TCOL.fe},
 {d:[at_t1,at_t15,at_t2,at_mg3,at_mg5,at_fem3,at_fep5],x:[5356,5690],y:[0.972,1.0173],xt:at_xt,yt:at_yt,dec:2,tc:TCOL.fe},
 {d:[ti_t1,ti_t15,ti_t2,ti_mg3,ti_mg5,ti_fem3,ti_fep5],x:[6066,6408],y:[0.9644,1.0205],xt:ti_xt,yt:ti_yt,dec:2,tc:TCOL.fe},
 {d:[na_t1,na_t15,na_t2,na_mg3,na_mg5,na_fem3,na_fep5],x:[8100,8250],y:[0.9816,1.0115],xt:na_xt,yt:na_yt,dec:3,tc:TCOL.al},
 {d:[cat_t1,cat_t15,cat_t2,cat_mg3,cat_mg5,cat_fem3,cat_fep5],x:[8458,8814],y:[0.9177,1.029],xt:cat_xt,yt:cat_yt,dec:2,tc:TCOL.al},
 {d:[feh_t1,feh_t15,feh_t2,feh_mg3,feh_mg5,feh_fem3,feh_fep5],x:[9800,10000],y:[0.9883,1.0111],xt:feh_xt,yt:feh_yt,dec:3,tc:TCOL.fe}
];

const grid=[],xAxis=[],yAxis=[],series=[],graphic=[];
panels.forEach((p,i)=>{
  const r=Math.floor(i/3), c=i%3;
  const L=COL_L[c],W=COL_W[c],T=ROW_T[r],H=ROW_H;
  grid.push({left:L,top:T,width:W,height:H,show:true,borderColor:'#262626',borderWidth:0.8,backgroundColor:'#fff'});
  xAxis.push({gridIndex:i,type:'value',min:p.x[0],max:p.x[1],
    axisLine:{show:false},splitLine:{show:false},
    axisTick:{show:true,length:2.5,inside:false,customValues:p.xt,lineStyle:{color:'#262626',width:0.7}},
    axisLabel:{customValues:p.xt,fontSize:6,margin:2.5,color:'#222',fontFamily:FONT,formatter:v=>String(Math.round(v))}});
  yAxis.push({gridIndex:i,type:'value',min:p.y[0],max:p.y[1],
    axisLine:{show:false},splitLine:{show:false},
    axisTick:{show:true,length:2.5,inside:false,customValues:p.yt,lineStyle:{color:'#262626',width:0.7}},
    axisLabel:{customValues:p.yt,fontSize:6,margin:2.5,color:'#222',fontFamily:FONT,formatter:v=>v.toFixed(p.dec)}});
  const base={xAxisIndex:i,yAxisIndex:i,type:'line',symbol:'none',showSymbol:false,silent:true,animation:false,smooth:0.35,smoothMonotone:'x'};
  series.push(Object.assign({},base,{name:'band',data:[[p.x[0],1],[p.x[1],1]],lineStyle:{width:0,opacity:0},z:1,
    markArea:{silent:true,itemStyle:{color:COL.band,opacity:1},data:[[{yAxis:0.99},{yAxis:1.01}]]}}));
  const [t1,t15,t2,mg3,mg5,fem3,fep5]=p.d;
  series.push(Object.assign({},base,{name:'fill',z:2,data:mg3.map(q=>[q[0],Math.max(0.99,Math.min(1.01,q[1]))]),
    lineStyle:{width:0,opacity:0},areaStyle:{origin:1.0,color:COL.fill,opacity:0.85}}));
  const mk=(name,data,color,type,w,z)=>Object.assign({},base,{name,data,z:z||3,
    lineStyle:{color,width:w,type},itemStyle:{color}});
  const flat=[[p.x[0],1],[p.x[1],1]];
  series.push(mk(LEGEND_T[0],t1,COL.t1,DASH,LW));
  series.push(mk(LEGEND_T[1],t15,COL.t15,DASH,LW));
  series.push(mk(LEGEND_T[2],t2,COL.t2,DASH,LW));
  series.push(mk(LEGEND_MG[0],flat,COL.mg0,'solid',1.0));
  series.push(mk(LEGEND_MG[2],mg5,COL.mg5,'solid',LW));
  series.push(mk(LEGEND_MG[1],mg3,COL.mg3,'solid',LW));
  series.push(mk(LEGEND_FE[0],fem3,COL.fem3,DOT,LW,4));
  series.push(mk(LEGEND_FE[1],flat,COL.fe0,DOT,LW,4));
  series.push(mk(LEGEND_FE[2],fep5,COL.fep5,DOT,LW,4));
  graphic.push({type:'text',x:L+W/2,y:T-5,style:{text:TITLES[i],align:'center',verticalAlign:'middle',fill:p.tc,font:'7.5px '+FONT},z:10});
  if(c===0) graphic.push({type:'text',x:10,y:T+H/2,rotation:Math.PI/2,style:{text:'Flux',align:'center',verticalAlign:'middle',fill:'#111',font:'15px '+FONT},z:10});
  if(r===3) graphic.push({type:'text',x:L+W/2,y:428,style:{text:'Wavelength [Å]',align:'center',verticalAlign:'middle',fill:'#111',font:'15px '+FONT},z:10});
});

// hand-drawn matplotlib-style legends
function addLegend(x,y,w,labels,cols,dashes,step){
  const h=step*labels.length+3;
  graphic.push({type:'rect',shape:{x,y,width:w,height:h,r:2},style:{fill:'rgba(255,255,255,0.85)',stroke:'#cccccc',lineWidth:0.6},z:20});
  labels.forEach((lab,k)=>{
    const cy=y+2+step*(k+0.5);
    graphic.push({type:'line',shape:{x1:x+3,y1:cy,x2:x+16,y2:cy},style:{stroke:cols[k],lineWidth:1.2,lineDash:dashes[k]},z:21});
    graphic.push({type:'text',x:x+19,y:cy,style:{text:lab,align:'left',verticalAlign:'middle',fill:'#111',font:'6.5px '+FONT},z:21});
  });
}
addLegend(60,63,52,LEGEND_T,[COL.t1,COL.t15,COL.t2],[DASH,DASH,DASH],8.6);
addLegend(148,56,60,LEGEND_MG,[COL.mg0,COL.mg3,COL.mg5],[null,null,null],8.6);
addLegend(261,56,54,LEGEND_FE,[COL.fem3,COL.fe0,COL.fep5],[DOT,DOT,DOT],8.6);

const chart=echarts.init(document.getElementById('c'),null,{renderer:'canvas'});
chart.setOption({animation:false,backgroundColor:'#fff',grid,xAxis,yAxis,series,graphic});
</script></body></html>
